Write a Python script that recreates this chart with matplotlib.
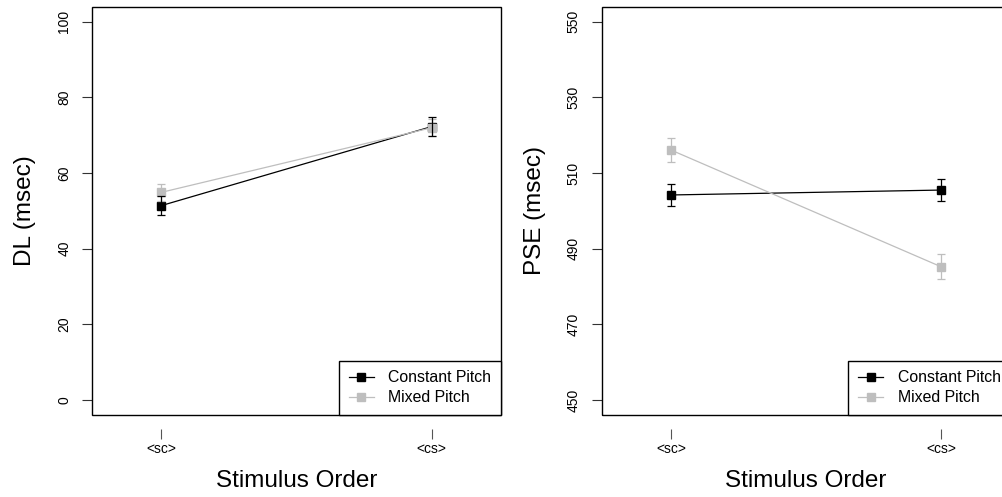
import matplotlib
matplotlib.use("Agg")
import matplotlib.pyplot as plt
from matplotlib.patches import Rectangle

plt.rcParams['font.family'] = ['Liberation Sans', 'DejaVu Sans']

# Stimulus order conditions
orders = ["<sc>", "<cs>"]
series_names = ["Constant Pitch", "Mixed Pitch"]

# Difference limen (msec): means and standard errors
dl_constant = [51.4, 72.3]
dl_constant_se = [2.4, 2.5]
dl_mixed = [54.9, 72.0]
dl_mixed_se = [2.3, 2.2]

# Point of subjective equality (msec): means and standard errors
pse_constant = [504.2, 505.5]
pse_constant_se = [3.0, 3.0]
pse_mixed = [516.1, 485.2]
pse_mixed_se = [3.2, 3.3]

dl_ticks = [0, 20, 40, 60, 80, 100]
pse_ticks = [450, 470, 490, 510, 530, 550]

BLACK = "#000000"
GRAY = "#BEBEBE"

W, H = 1003, 497
fig = plt.figure(figsize=(W / 100, H / 100), dpi=100)

ax_bottom = (H - 415) / H
ax_height = (415 - 6.7) / H
ax_width = 408.7 / W
ax1 = fig.add_axes([92.3 / W, ax_bottom, ax_width, ax_height])
ax2 = fig.add_axes([601.7 / W, ax_bottom, ax_width, ax_height])


def draw_panel(ax, const, const_se, mixed, mixed_se, ticks, ylabel):
    x = list(range(1, len(orders) + 1))
    ax.plot(x, const, color=BLACK, lw=0.9, marker="s", ms=6.2,
            mfc=BLACK, mec=BLACK, zorder=2, label=series_names[0])
    ax.plot(x, mixed, color=GRAY, lw=0.9, marker="s", ms=6.2,
            mfc=GRAY, mec=GRAY, zorder=3, label=series_names[1])
    ax.errorbar(x, mixed, yerr=mixed_se, fmt="none", ecolor=GRAY,
                elinewidth=0.9, capsize=3, capthick=0.9, zorder=4)
    ax.errorbar(x, const, yerr=const_se, fmt="none", ecolor=BLACK,
                elinewidth=0.9, capsize=3, capthick=0.9, zorder=5)

    lo, hi = ticks[0], ticks[-1]
    pad = (hi - lo) * 0.04
    ax.set_ylim(lo - pad, hi + pad)
    ax.set_xlim(0.744, 2.256)

    ax.set_yticks(ticks)
    ax.set_yticklabels([str(t) for t in ticks], rotation=90, va="center",
                       fontsize=10)
    ax.set_xticks(x)
    ax.set_xticklabels(orders, fontsize=8.8, family="DejaVu Sans")

    for s in ax.spines.values():
        s.set_visible(False)
    ax.spines["bottom"].set_position(("outward", 10))
    ax.add_patch(Rectangle((0, 0), 1, 1, transform=ax.transAxes, fill=False,
                           edgecolor=BLACK, lw=1.0, clip_on=False, zorder=6))

    ax.tick_params(axis="y", length=7.5, width=0.8, pad=7.5, color="#333333")
    ax.tick_params(axis="x", length=7.5, width=0.8, pad=2, color="#555555")

    ax.set_ylabel(ylabel, fontsize=17.5)
    ax.yaxis.set_label_coords(-0.137, 0.5)
    ax.set_xlabel("Stimulus Order", fontsize=17.5)
    ax.xaxis.set_label_coords(0.5, -0.134)

    leg = ax.legend(loc="lower right", borderaxespad=0, fontsize=11.4,
                    handlelength=1.6, handletextpad=0.9, borderpad=0.62,
                    labelspacing=0.3, fancybox=False, framealpha=1,
                    edgecolor=BLACK)
    leg.get_frame().set_linewidth(1.0)
    leg.set_zorder(7)


draw_panel(ax1, dl_constant, dl_constant_se, dl_mixed, dl_mixed_se,
           dl_ticks, "DL (msec)")
draw_panel(ax2, pse_constant, pse_constant_se, pse_mixed, pse_mixed_se,
           pse_ticks, "PSE (msec)")

fig.savefig("out.png", dpi=100)
